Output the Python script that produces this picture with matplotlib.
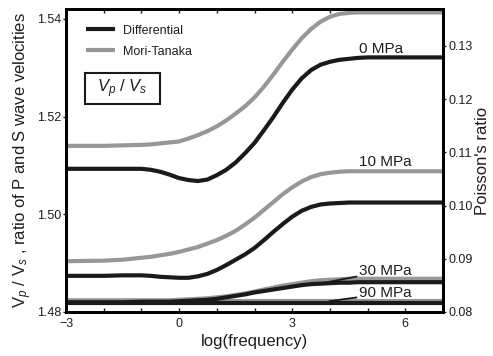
import matplotlib
matplotlib.use("agg")
import matplotlib.pyplot as plt
from matplotlib.patches import Rectangle
from matplotlib.ticker import MultipleLocator, FormatStrFormatter

plt.rcParams['font.family'] = ['Liberation Sans', 'DejaVu Sans']
plt.rcParams['mathtext.fontset'] = 'custom'
plt.rcParams['mathtext.rm'] = 'Liberation Sans'
plt.rcParams['mathtext.it'] = 'Liberation Sans:italic'

# data
log_freq = [-3, -2, -1.5, -1, -0.75, -0.5, -0.25, 0, 0.25, 0.5, 0.75, 1, 1.25, 1.5,
            1.75, 2, 2.25, 2.5, 2.75, 3, 3.25, 3.5, 3.75, 4, 4.25, 4.5, 4.75, 5,
            5.5, 6, 7]

# Mori-Tanaka (gray)
mt_0 = [1.5140, 1.5140, 1.5141, 1.5142, 1.5143, 1.5145, 1.5147, 1.5149, 1.5155,
        1.5162, 1.5170, 1.5180, 1.5192, 1.5206, 1.5221, 1.5239, 1.5261, 1.5286,
        1.5312, 1.5337, 1.5360, 1.5379, 1.5394, 1.5404, 1.5410, 1.5412, 1.5413,
        1.5413, 1.5413, 1.5413, 1.5413]
mt_10 = [1.4904, 1.4905, 1.4907, 1.4911, 1.4913, 1.4916, 1.4919, 1.4923, 1.4928,
         1.4933, 1.4940, 1.4947, 1.4956, 1.4966, 1.4979, 1.4993, 1.5009, 1.5025,
         1.5041, 1.5055, 1.5067, 1.5076, 1.5082, 1.5085, 1.5087, 1.5088, 1.5088,
         1.5088, 1.5088, 1.5088, 1.5088]
mt_30 = [1.4824, 1.4824, 1.4824, 1.4824, 1.4824, 1.4824, 1.4824, 1.4825, 1.4826,
         1.4827, 1.4828, 1.4830, 1.4832, 1.4835, 1.4838, 1.4842, 1.4846, 1.4850,
         1.4854, 1.4857, 1.4860, 1.4863, 1.4865, 1.4866, 1.4867, 1.4868, 1.4868,
         1.4868, 1.4868, 1.4868, 1.4868]
mt_90 = [1.4822] * len(log_freq)

# Differential (black)
df_0 = [1.5093, 1.5093, 1.5093, 1.5093, 1.5091, 1.5087, 1.5081, 1.5074, 1.5070,
        1.5068, 1.5071, 1.5080, 1.5091, 1.5106, 1.5125, 1.5146, 1.5172, 1.5199,
        1.5228, 1.5255, 1.5278, 1.5295, 1.5306, 1.5312, 1.5316, 1.5318, 1.5320,
        1.5321, 1.5321, 1.5321, 1.5321]
df_10 = [1.4874, 1.4874, 1.4875, 1.4875, 1.4874, 1.4872, 1.4871, 1.4870, 1.4870,
         1.4873, 1.4878, 1.4886, 1.4896, 1.4907, 1.4918, 1.4931, 1.4947, 1.4964,
         1.4980, 1.4995, 1.5007, 1.5015, 1.5020, 1.5022, 1.5023, 1.5024, 1.5024,
         1.5024, 1.5024, 1.5024, 1.5024]
df_30 = [1.4820, 1.4820, 1.4820, 1.4821, 1.4821, 1.4821, 1.4821, 1.4822, 1.4823,
         1.4824, 1.4825, 1.4827, 1.4830, 1.4833, 1.4836, 1.4840, 1.4843, 1.4846,
         1.4849, 1.4852, 1.4855, 1.4857, 1.4858, 1.4859, 1.4860, 1.4860, 1.4861,
         1.4861, 1.4861, 1.4861, 1.4861]
df_90 = [1.4819] * len(log_freq)

gray = '#979797'
black = '#1a1a1a'
txt = '#1e1e1e'

fig = plt.figure(figsize=(4.93, 3.56), dpi=100)
ax = fig.add_axes([0.1339, 0.1236, 0.7647, 0.8511])

for y in [mt_0, mt_10, mt_30, mt_90]:
    h_mt, = ax.plot(log_freq, y, color=gray, lw=3, solid_capstyle='butt')
for y in [df_0, df_10, df_30, df_90]:
    h_df, = ax.plot(log_freq, y, color=black, lw=3, solid_capstyle='butt')

ax.set_xlim(-3, 7)
ax.set_ylim(1.48, 1.542)
ax.xaxis.set_major_locator(MultipleLocator(3))
ax.xaxis.set_minor_locator(MultipleLocator(1))
ax.yaxis.set_major_locator(MultipleLocator(0.02))
ax.yaxis.set_major_formatter(FormatStrFormatter('%.2f'))
ax.tick_params(axis='x', which='both', direction='in', top=True, length=3,
               width=1, labelsize=9, pad=4, colors=black, labelcolor=txt)
ax.tick_params(axis='y', direction='out', length=2, width=1, labelsize=9,
               pad=1.5, colors=black, labelcolor=txt)
for s in ax.spines.values():
    s.set_linewidth(2)

ax.set_xlabel('log(frequency)', fontsize=12, color=txt, labelpad=3)
ax.set_ylabel(r'$\mathrm{V}_{p}$ / $\mathrm{V}_{s}$ , ratio of P and S wave velocities',
              fontsize=12, color=txt)
ax.yaxis.set_label_coords(-0.085, 0.5)

# right axis (Poisson's ratio)
ax2 = ax.twinx()
ax2.set_ylim(0.08, 0.13695)
ax2.yaxis.set_major_locator(MultipleLocator(0.01))
ax2.yaxis.set_major_formatter(FormatStrFormatter('%.2f'))
ax2.tick_params(axis='y', direction='out', length=2, width=1, labelsize=9,
                pad=2, colors=black, labelcolor=txt)
for s in ax2.spines.values():
    s.set_linewidth(2)
ax2.set_ylabel("Poisson's ratio", fontsize=12, color=txt)
ax2.yaxis.set_label_coords(1.084, 0.5)

leg = ax.legend([h_df, h_mt], ['Differential', 'Mori-Tanaka'], loc='upper left',
                bbox_to_anchor=(0.053, 0.948), frameon=False, fontsize=9,
                handlelength=2.3, handletextpad=0.65, labelspacing=0.7,
                borderpad=0, borderaxespad=0)
for t in leg.get_texts():
    t.set_color(txt)

# Vp/Vs box
ax.add_patch(Rectangle((0.0504, 0.6865), 0.199, 0.1023, transform=ax.transAxes,
                       fill=False, lw=1.5, ec=black))
ax.text(0.150, 0.7376, r'$V_p\ /\ V_s$', transform=ax.transAxes, fontsize=12,
        ha='center', va='center', color=txt)

# pressure labels
ax.text(5.36, 1.5338, '0 MPa', fontsize=11, ha='center', va='center', color=txt)
ax.text(5.47, 1.5106, '10 MPa', fontsize=11, ha='center', va='center', color=txt)
ax.annotate('30 MPa', xy=(3.93, 1.4861), xytext=(4.78, 1.4884), fontsize=11,
            va='center', color=txt,
            arrowprops=dict(arrowstyle='-', lw=1.3, color=black, shrinkA=0, shrinkB=0))
ax.annotate('90 MPa', xy=(3.98, 1.4822), xytext=(4.78, 1.4838), fontsize=11,
            va='center', color=txt,
            arrowprops=dict(arrowstyle='-', lw=1.3, color=black, shrinkA=0, shrinkB=0))

fig.savefig('out.png', dpi=100)
plt.close()
